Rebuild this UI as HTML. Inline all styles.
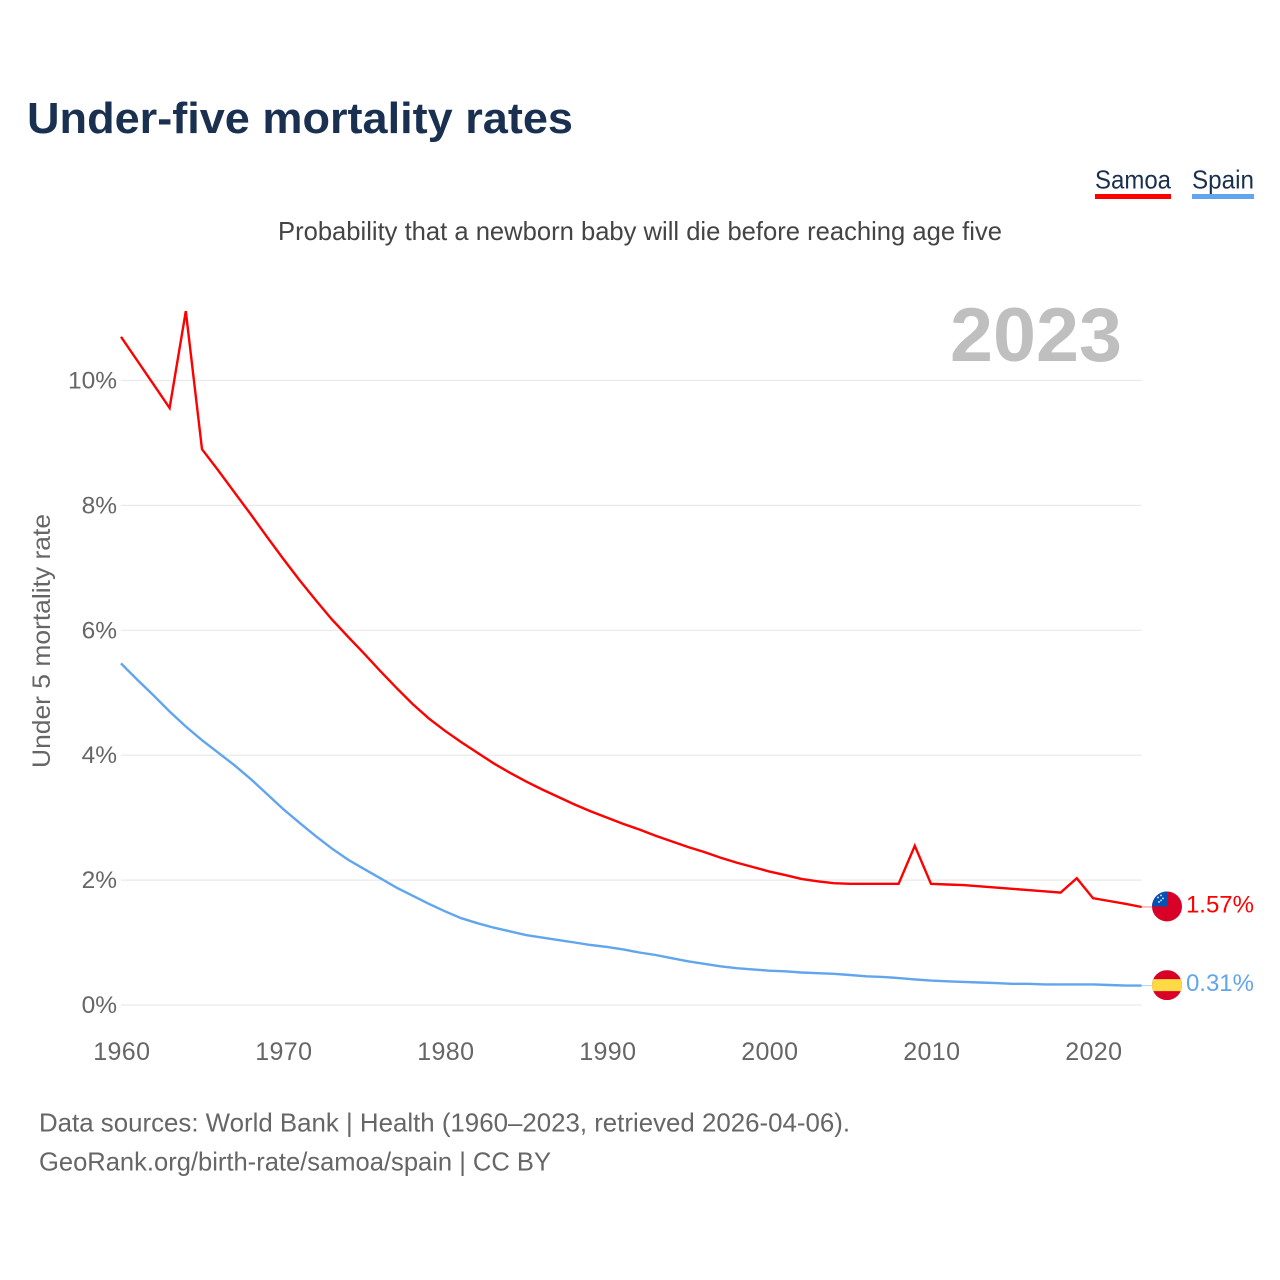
<!DOCTYPE html>
<html lang="en">
<head>
<meta charset="utf-8">
<title>Under-five mortality rates</title>
<style>
html,body{margin:0;padding:0;background:#fff;width:1280px;height:1280px;overflow:hidden}
svg{display:block}
text{font-family:"Liberation Sans",sans-serif}
</style>
</head>
<body>
<svg id="chart" width="1280" height="1280" viewBox="0 0 1280 1280" xmlns="http://www.w3.org/2000/svg">
  <defs>
    <clipPath id="flag-clip"><circle cx="0" cy="0" r="15"/></clipPath>
  </defs>
  <rect x="0" y="0" width="1280" height="1280" fill="#fff"/>
  <text x="27" y="133" font-size="44" font-weight="700" fill="#1a3050" textLength="546" lengthAdjust="spacingAndGlyphs">Under-five mortality rates</text>
  <g>
    <g>
      <text x="1095" y="188.5" font-size="26" fill="#1a3050" textLength="76" lengthAdjust="spacingAndGlyphs">Samoa</text>
      <rect x="1095" y="194" width="76" height="5" fill="#ff0000"/>
    </g>
    <g>
      <text x="1192" y="188.5" font-size="26" fill="#1a3050" textLength="62" lengthAdjust="spacingAndGlyphs">Spain</text>
      <rect x="1192" y="194" width="62" height="5" fill="#60a5ee"/>
    </g>
  </g>
  <text x="278" y="240" font-size="26" fill="#444" textLength="724" lengthAdjust="spacingAndGlyphs">Probability that a newborn baby will die before reaching age five</text>
  <text transform="translate(50 641) rotate(-90)" text-anchor="middle" font-size="25" fill="#666" textLength="254" lengthAdjust="spacingAndGlyphs">Under 5 mortality rate</text>
  <g id="grid"></g>
  <g id="y-ticks"></g>
  <g id="x-ticks"></g>
  <text x="1122" y="361" text-anchor="end" font-size="76" font-weight="700" fill="#bfbfbf" textLength="172" lengthAdjust="spacingAndGlyphs">2023</text>
  <g id="series"></g>
  <text x="39" y="1131.5" font-size="26" fill="#666" textLength="811" lengthAdjust="spacingAndGlyphs">Data sources: World Bank | Health (1960–2023, retrieved 2026-04-06).</text>
  <text x="39" y="1170.5" font-size="26" fill="#666" textLength="512" lengthAdjust="spacingAndGlyphs">GeoRank.org/birth-rate/samoa/spain | CC BY</text>
</svg>
<script>
const startYear = 1960;
const samoaValues = [10.70,10.32,9.94,9.56,11.11,8.90,8.56,8.21,7.86,7.50,7.15,6.81,6.49,6.18,5.90,5.63,5.35,5.08,4.82,4.59,4.39,4.21,4.04,3.87,3.72,3.58,3.45,3.33,3.21,3.10,3.00,2.90,2.81,2.71,2.62,2.53,2.45,2.36,2.28,2.21,2.14,2.08,2.02,1.98,1.95,1.94,1.94,1.94,1.94,2.55,1.94,1.93,1.92,1.90,1.88,1.86,1.84,1.82,1.80,2.03,1.71,1.665,1.62,1.57];
const spainValues = [5.47,5.21,4.96,4.70,4.46,4.24,4.04,3.84,3.62,3.38,3.14,2.92,2.71,2.51,2.33,2.18,2.03,1.88,1.75,1.62,1.50,1.39,1.31,1.24,1.18,1.12,1.08,1.04,1.00,0.96,0.93,0.89,0.84,0.80,0.75,0.70,0.66,0.62,0.59,0.57,0.55,0.54,0.52,0.51,0.50,0.48,0.46,0.45,0.43,0.41,0.39,0.38,0.37,0.36,0.35,0.34,0.34,0.33,0.33,0.33,0.33,0.32,0.31,0.31];
const yTickValues = [0,2,4,6,8,10];
const xTickValues = [1960,1970,1980,1990,2000,2010,2020];

const NS = 'http://www.w3.org/2000/svg';
const xScale = yr => 121 + (yr - 1960) * 16.2;
const yScale = v => 1005 - v * 62.45;
const xEnd = xScale(startYear + samoaValues.length - 1);
function make(tag, attrs, parent, txt) {
  const el = document.createElementNS(NS, tag);
  for (const k in attrs) el.setAttribute(k, attrs[k]);
  if (txt !== undefined) el.textContent = txt;
  parent.appendChild(el);
  return el;
}
const gridG = document.getElementById('grid');
const yG = document.getElementById('y-ticks');
const xG = document.getElementById('x-ticks');
const seriesG = document.getElementById('series');

yTickValues.forEach(v => {
  const ln = make('line', {x1: 121, x2: xEnd, y1: yScale(v), y2: yScale(v), stroke: '#e9e9e9', 'stroke-width': 1.2}, gridG);
  
  
  const t = make('text', {x: 117, y: yScale(v) + 8, 'text-anchor': 'end', 'font-size': 24.5, fill: '#666'}, yG, v + '%');
  
  
});
xTickValues.forEach(yr => {
  const t = make('text', {x: xScale(yr) + 0.8, y: 1060, 'text-anchor': 'middle', 'font-size': 25, 'letter-spacing': '0.4', fill: '#666'}, xG, String(yr));
  
  
});

function drawSeries(values, color, key) {
  const pts = values.map((v, i) => xScale(startYear + i).toFixed(1) + ',' + yScale(v).toFixed(1)).join(' ');
  const line = make('polyline', {points: pts, fill: 'none', stroke: color, 'stroke-width': 2.4, 'stroke-linejoin': 'miter'}, seriesG);
  
  
  const last = values[values.length - 1];
  const yLast = yScale(last);
  const conn = make('line', {x1: xEnd, x2: 1152, y1: yLast, y2: yLast, stroke: color, 'stroke-width': 1, 'stroke-opacity': 0.5}, seriesG);
  
  
  const flag = make('g', {transform: 'translate(1167 ' + (yLast - 0.5) + ')', 'clip-path': 'url(#flag-clip)'}, seriesG);
  
  
  if (key === 'samoa') {
    make('rect', {x: -15, y: -15, width: 30, height: 30, fill: '#d80027'}, flag);
    make('rect', {x: -15, y: -15, width: 15, height: 15, fill: '#0052b4'}, flag);
    [[-9,-9],[-6,-11],[-4,-8],[-6,-6],[-8,-4.5]].forEach(p => make('circle', {cx: p[0], cy: p[1], r: 0.9, fill: '#e8f0fa'}, flag));
  } else {
    make('rect', {x: -15, y: -15, width: 30, height: 30, fill: '#d80027'}, flag);
    make('rect', {x: -15, y: -6, width: 30, height: 12, fill: '#ffda44'}, flag);
  }
  const lab = make('text', {x: 1254, y: yLast + 5.5, 'text-anchor': 'end', 'font-size': 24, fill: color}, seriesG, last.toFixed(2) + '%');
  
  
}
drawSeries(spainValues, '#60a5ee', 'spain');
drawSeries(samoaValues, '#ff0000', 'samoa');
</script>
</body>
</html>
